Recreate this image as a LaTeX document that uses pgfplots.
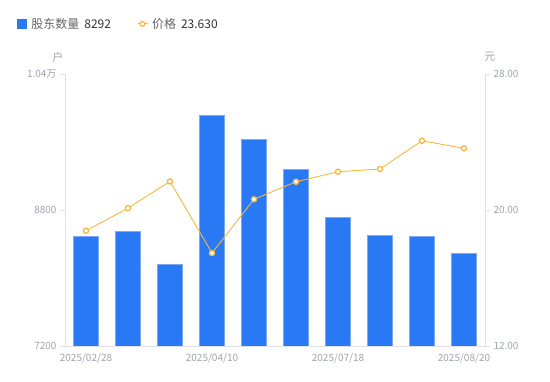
\documentclass[border=0pt]{standalone}
\usepackage{pgfplots}
\pgfplotsset{compat=1.18}
\usepackage{fontspec}
\setmainfont{Noto Sans CJK SC}
\definecolor{barblue}{RGB}{40,121,243}
\definecolor{baredge}{RGB}{125,168,246}
\definecolor{lineorange}{RGB}{247,183,62}
\definecolor{ticklab}{RGB}{160,163,173}
\definecolor{axisgray}{RGB}{224,226,230}
\definecolor{legname}{RGB}{102,102,102}
\definecolor{legval}{RGB}{51,51,51}
\pgfplotsset{
  common/.style={
    at={(65pt,35pt)}, anchor=south west,
    scale only axis, width=420pt, height=272pt,
    xmin=-0.5, xmax=9.5,
    clip mode=individual,
    scaled y ticks=false,
    tick align=outside, major tick length=5pt,
    axis line style={draw=axisgray, line width=0.8pt},
    ticklabel style={font=\fontsize{10}{12}\selectfont, text=ticklab},
    /pgf/number format/assume math mode=true,
  }
}
\begin{document}
\begin{tikzpicture}
\path[use as bounding box] (0,0) rectangle (550pt,381pt);
\begin{axis}[
  common,
  ymin=7200, ymax=10400,
  axis y line*=left, axis x line*=bottom,
  ytick={7200,8800,10400},
  yticklabels={7200,8800,1.04万},
  ytick style={draw=axisgray, line width=0.8pt},
  xtick={0,3,6,9},
  xticklabels={2025/02/28,2025/04/10,2025/07/18,2025/08/20},
  xtick style={draw=none},
  xticklabel style={yshift=1pt},
]
\addplot[ybar, bar width=25pt, bar shift=0pt, fill=barblue, draw=baredge, line width=0.7pt]
  coordinates {(0,8490) (1,8544) (2,8161) (3,9913) (4,9631) (5,9278) (6,8713) (7,8502) (8,8490) (9,8292)};
\node[font=\fontsize{11}{13}\selectfont, text=ticklab] at (axis description cs:-0.0167,1.0625) {户};
\node[font=\fontsize{11}{13}\selectfont, text=ticklab] at (axis description cs:1.0119,1.0625) {元};
\end{axis}
\begin{axis}[
  common,
  ymin=12, ymax=28,
  axis y line*=right, axis x line=none,
  ytick={12,20,28},
  yticklabel={\pgfmathprintnumber[fixed,fixed zerofill,precision=2]{\tick}},
  ytick style={draw=axisgray, line width=0.8pt},
  legend style={at={(axis description cs:-0.1143,1.184)}, anchor=west,
    draw=none, fill=none, inner sep=0pt, outer sep=0pt,
    font=\fontsize{12}{14}\selectfont, text=legname,
    legend columns=2, legend cell align=left,
    /tikz/every even column/.append style={column sep=24pt}},
]
\addlegendimage{legend image code/.code={\fill[barblue] (0pt,-4.5pt) rectangle (9pt,4.5pt);}}
\addlegendentry{\hspace{3pt}股东数量\hspace{5pt}\textcolor{legval}{8292}}
\addplot[lineorange, line width=0.9pt, mark=*, mark size=2.6pt,
  mark options={fill=white, draw=lineorange, line width=1.3pt},
  legend image code/.code={\draw[lineorange, line width=1pt] (0pt,0pt)--(10pt,0pt);
    \draw[lineorange, fill=white, line width=1.2pt] (5pt,0pt) circle (2.4pt);}]
  coordinates {(0,18.78) (1,20.11) (2,21.68) (3,17.47) (4,20.63) (5,21.66) (6,22.25) (7,22.41) (8,24.07) (9,23.63)};
\addlegendentry{\hspace{2pt}价格\hspace{5pt}\textcolor{legval}{23.630}}
\end{axis}
\end{tikzpicture}
\end{document}
